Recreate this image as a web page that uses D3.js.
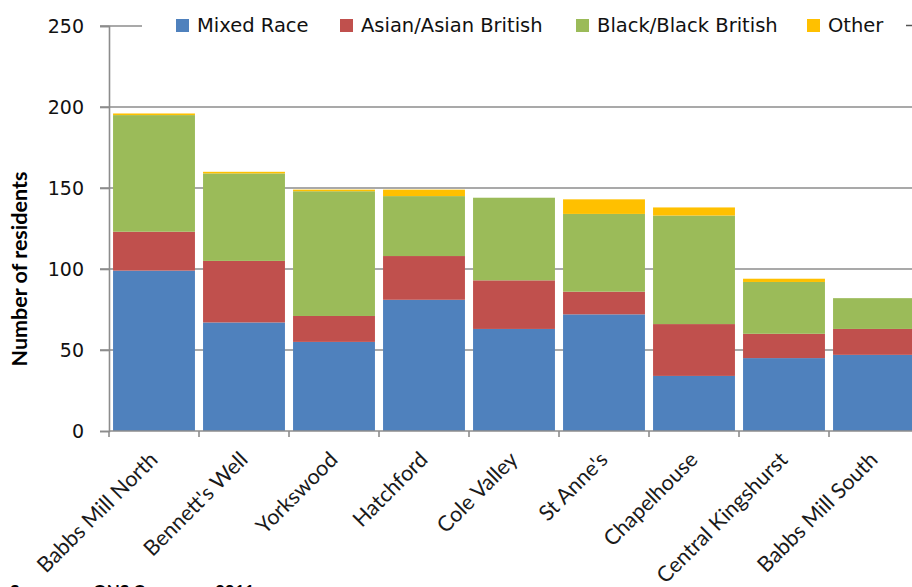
<!DOCTYPE html>
<html>
<head>
<meta charset="utf-8">
<script src="https://cdn.jsdelivr.net/npm/d3@7"></script>
<style>
  html, body { margin: 0; padding: 0; background: #fff; overflow: hidden; }
  svg { display: block; }
</style>
</head>
<body>
<svg id="chart" width="912" height="587"></svg>
<script>
// Residents by ethnic group in each ward
const wards = ["Babbs Mill North", "Bennett's Well", "Yorkswood", "Hatchford", "Cole Valley",
               "St Anne's", "Chapelhouse", "Central Kingshurst", "Babbs Mill South"];
const seriesNames = ["Mixed Race", "Asian/Asian British", "Black/Black British", "Other"];
const mixedRace   = [99, 67, 55, 81, 63, 72, 34, 45, 47];
const asianBrit   = [24, 38, 16, 27, 30, 14, 32, 15, 16];
const blackBrit   = [72, 54, 77, 37, 51, 48, 67, 32, 19];
const otherGroup  = [1, 1, 1, 4, 0, 9, 5, 2, 0];
const colors = ["#4F81BD", "#C0504D", "#9BBB59", "#FFC000"];
const yTicks = [0, 50, 100, 150, 200, 250];

const rows = wards.map((w, i) => ({
  ward: w,
  "Mixed Race": mixedRace[i],
  "Asian/Asian British": asianBrit[i],
  "Black/Black British": blackBrit[i],
  "Other": otherGroup[i]
}));

const svg = d3.select("#chart");
const gridColor = "#8c8c8c";

const x = d3.scaleBand().domain(wards).range([109, 919])
  .paddingInner(0.09).paddingOuter(0.045);
const y = d3.scaleLinear().domain([0, 250]).range([431, 26]);

// horizontal gridlines with short outer ticks
svg.append("g").selectAll("line").data(yTicks.slice(1)).join("line")
  .attr("x1", 100).attr("x2", 919)
  .attr("y1", d => y(d)).attr("y2", d => y(d))
  .attr("stroke", gridColor).attr("stroke-width", 1.6);

// stacked bars
const stacked = d3.stack().keys(seriesNames)(rows);
svg.append("g").selectAll("g").data(stacked).join("g")
  .attr("fill", (d, i) => colors[i])
  .selectAll("rect").data(d => d).join("rect")
  .attr("x", d => x(d.data.ward))
  .attr("width", x.bandwidth())
  .attr("y", d => y(d[1]))
  .attr("height", d => Math.max(0, y(d[0]) - y(d[1])));

// y axis
const yAxis = svg.append("g").attr("transform", "translate(109,0)")
  .call(d3.axisLeft(y).tickValues(yTicks).tickSize(9).tickPadding(16));
yAxis.select(".domain").attr("stroke", gridColor).attr("stroke-width", 1.6);
yAxis.selectAll(".tick line").attr("stroke", gridColor).attr("stroke-width", 1.6);
yAxis.selectAll(".tick text")
  .attr("font-family", "DejaVu Sans").attr("font-size", 19).attr("fill", "#111");

// x axis with ticks at band boundaries
svg.append("line").attr("x1", 109).attr("x2", 919).attr("y1", 431).attr("y2", 431)
  .attr("stroke", gridColor).attr("stroke-width", 1.6);
const boundaries = wards.map(w => x(w) - x.step() * x.paddingInner() / 2);
svg.append("g").selectAll("line").data(boundaries).join("line")
  .attr("x1", d => d).attr("x2", d => d).attr("y1", 431).attr("y2", 437)
  .attr("stroke", gridColor).attr("stroke-width", 1.6);

// rotated ward labels
svg.append("g").selectAll("text").data(wards).join("text")
  .attr("transform", d => `translate(${x(d) + x.bandwidth() / 2 + 5},461) rotate(-45)`)
  .attr("text-anchor", "end")
  .attr("font-family", "Lato").attr("font-size", 21.5).attr("fill", "#1a1a1a")
  .text(d => d);

// y axis title
svg.append("text")
  .attr("transform", "translate(27,269) rotate(-90)")
  .attr("text-anchor", "middle")
  .attr("font-family", "Lato").attr("font-weight", "bold").attr("font-size", 21.5)
  .attr("fill", "#000")
  .text("Number of residents");

// legend
const legend = svg.append("g");
legend.append("rect").attr("x", 142).attr("y", 8).attr("width", 780).attr("height", 34).attr("fill", "#fff");
const legendX = [176, 340, 576, 807];
seriesNames.forEach((name, i) => {
  legend.append("rect").attr("x", legendX[i]).attr("y", 19).attr("width", 13).attr("height", 13)
    .attr("fill", colors[i]);
  legend.append("text").attr("x", legendX[i] + 21).attr("y", 32)
    .attr("font-family", "DejaVu Sans").attr("font-size", 19.5).attr("fill", "#111")
    .text(name);
});
legend.append("line").attr("x1", 906).attr("x2", 914).attr("y1", 25.5).attr("y2", 25.5)
  .attr("stroke", "#555").attr("stroke-width", 1.5);

// source note along the bottom edge
const src = svg.append("text").attr("y", 597)
  .attr("font-family", "Lato").attr("font-weight", "bold").attr("font-size", 17).attr("fill", "#000");
src.append("tspan").attr("x", 10).text("Source:");
src.append("tspan").attr("x", 93).text("ONS Census");
src.append("tspan").attr("x", 215).text("2011");
</script>
</body>
</html>
